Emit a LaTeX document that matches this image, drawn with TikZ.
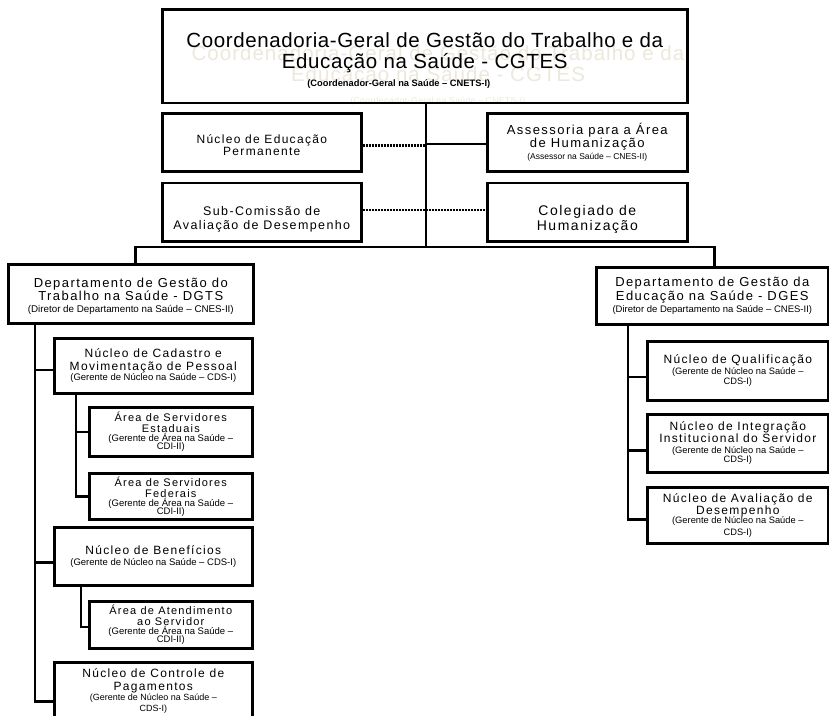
\documentclass[tikz,border=0pt]{standalone}
\usepackage{fontspec}
\setmainfont{Liberation Sans}
\usetikzlibrary{positioning,backgrounds}

\definecolor{ghostgray}{RGB}{236,232,220}

\newcommand{\titlefont}{\fontsize{20.5}{21}\selectfont\addfontfeature{LetterSpace=3}}
\newcommand{\unitfont}[2]{\fontsize{#1}{#2}\selectfont\addfontfeature{LetterSpace=11}}
\newcommand{\rolenote}[1][9]{\fontsize{#1}{#1}\selectfont\addfontfeature{LetterSpace=0}}

\tikzset{
  unit/.style={draw, line width=2.6pt, anchor=north west, align=center, inner sep=0pt},
  link/.style={line width=2.6pt},
  stem/.style={line width=2pt},
  trunk/.style={line width=2.8pt},
  dotlink/.style={line width=2.6pt, dash pattern=on 2pt off 1pt},
  ghost/.style={text=ghostgray, align=center, inner sep=0pt}
}

\begin{document}
\begin{tikzpicture}[x=1pt, y=-1pt]
  \useasboundingbox (0,0) rectangle (829,715);

  % coordenadoria
  \node[unit, minimum width=525pt, minimum height=93.5pt, font=\titlefont] (cgtes) at (161,8)
    {\rule{0pt}{24pt}Coordenadoria-Geral de Gestão do Trabalho e da\\Educação na Saúde - CGTES\\[-3pt]
     {\rolenote[9.3]\bfseries (Coordenador-Geral na Saúde – CNETS-I)}\hspace*{52pt}};
  \begin{scope}[on background layer]
    \node[ghost, font=\titlefont\addfontfeature{LetterSpace=5}] (cgtesghost) at (438,75)
      {Coordenadoria-Geral de Gestão do Trabalho e da\\Educação na Saúde - CGTES\\[1pt]
       {\fontsize{8.5}{8.5}\selectfont (Coordenador-Geral na Saúde – CNETS-I)}};
  \end{scope}

  % assessoramento
  \node[unit, minimum width=199pt, minimum height=58pt, font={\unitfont{12}{12}}] (nep) at (161,112)
    {\rule{0pt}{14pt}Núcleo de Educação\\Permanente};
  \node[unit, minimum width=200pt, minimum height=58pt, font={\unitfont{13}{12}}] (ahum) at (486,112)
    {Assessoria para a Área\\de Humanização\\{\rolenote[8.5] (Assessor na Saúde – CNES-II)}};
  \node[unit, minimum width=199pt, minimum height=58.5pt, font={\unitfont{12.5}{14}}] (sca) at (161,181.5)
    {\rule{0pt}{23pt}Sub-Comissão de\\Avaliação de Desempenho};
  \node[unit, minimum width=200pt, minimum height=58.5pt, font={\unitfont{14}{15}}] (chum) at (486,181.5)
    {\rule{0pt}{24pt}Colegiado de\\Humanização};

  % departamentos
  \node[unit, minimum width=245pt, minimum height=59pt, font={\unitfont{13}{12}}] (dgts) at (7,263)
    {\rule{0pt}{14pt}Departamento de Gestão do\\Trabalho na Saúde - DGTS\\{\rolenote[9.8] (Diretor de Departamento na Saúde – CNES-II)}};
  \node[unit, minimum width=232pt, minimum height=57pt, font={\unitfont{13}{12}}] (dges) at (595,266)
    {Departamento de Gestão da\\Educação na Saúde - DGES\\{\rolenote[9.5] (Diretor de Departamento na Saúde – CNES-II)}};

  % DGTS
  \node[unit, minimum width=198pt, minimum height=55pt, font={\unitfont{12}{13}}] (ncm) at (53,337)
    {Núcleo de Cadastro e\\Movimentação de Pessoal\\[-3pt]{\rolenote[9.5] (Gerente de Núcleo na Saúde – CDS-I)}};
  \node[unit, minimum width=163pt, minimum height=49pt, font={\unitfont{11}{11}}] (ase) at (88,406)
    {Área de Servidores\\Estaduais\\[-2pt]{\rolenote[9.5] (Gerente de Área na Saúde –}\\[-3pt]{\rolenote[9.5] CDI-II)}};
  \node[unit, minimum width=163pt, minimum height=46pt, font={\unitfont{11}{11}}] (asf) at (88,472)
    {Área de Servidores\\Federais\\[-2pt]{\rolenote[9.5] (Gerente de Área na Saúde –}\\[-3pt]{\rolenote[9.5] CDI-II)}};
  \node[unit, minimum width=198pt, minimum height=58pt, font={\unitfont{12}{13}}] (nben) at (53,526)
    {Núcleo de Benefícios\\[-2pt]{\rolenote[9.5] (Gerente de Núcleo na Saúde – CDS-I)}};
  \node[unit, minimum width=163pt, minimum height=47pt, font={\unitfont{11}{11}}] (aat) at (88,600)
    {Área de Atendimento\\ao Servidor\\[-2pt]{\rolenote[9.5] (Gerente de Área na Saúde –}\\[-3pt]{\rolenote[9.5] CDI-II)}};
  \node[unit, minimum width=198pt, minimum height=58pt, font={\unitfont{12}{13}}] (ncp) at (53,661)
    {\rule{0pt}{9pt}Núcleo de Controle de\\Pagamentos\\[-3pt]{\rolenote (Gerente de Núcleo na Saúde –}\\[-2pt]{\rolenote CDS-I)}};

  % DGES
  \node[unit, minimum width=181pt, minimum height=59pt, font={\unitfont{12}{13}}] (nq) at (646,340)
    {Núcleo de Qualificação\\[-2pt]{\rolenote[9.3] (Gerente de Núcleo na Saúde –}\\[-3pt]{\rolenote[9.3] CDS-I)}};
  \node[unit, minimum width=181pt, minimum height=58pt, font={\unitfont{12}{12}}] (nii) at (646,413)
    {Núcleo de Integração\\Institucional do Servidor\\[-1pt]{\rolenote[9.3] (Gerente de Núcleo na Saúde –}\\[-3pt]{\rolenote[9.3] CDS-I)}};
  \node[unit, minimum width=181pt, minimum height=56pt, font={\unitfont{12}{12}}] (nad) at (646,486)
    {Núcleo de Avaliação de\\Desempenho\\[-3pt]{\rolenote[9.3] (Gerente de Núcleo na Saúde –}\\[0pt]{\rolenote[9.3] CDS-I)}};

  % ligacoes
  \coordinate (hub) at (426,247);
  \draw[stem] (cgtes.south -| hub) -- (hub);
  \draw[dotlink] ([yshift=-3pt]nep.east) -- ([yshift=-3pt]nep.east -| hub);
  \draw[stem] ([yshift=-2pt]ahum.west -| hub) -- ([yshift=-2pt]ahum.west);
  \draw[dotlink] ([yshift=2pt]sca.east) -- ([yshift=2pt]chum.west);
  \draw[trunk] ([xshift=5pt]dgts.north) -- ([xshift=5pt]dgts.north |- hub) -| ([xshift=2pt]dges.north);

  \coordinate (lspine) at ([xshift=28pt]dgts.south west);
  \coordinate (sub1) at ([xshift=23pt]ncm.south west);
  \coordinate (sub2) at ([xshift=28pt]nben.south west);
  \coordinate (rspine) at ([xshift=33pt]dges.south west);

  \draw[link] (lspine) |- ([yshift=-10pt]ncp.west);
  \draw[link] ([yshift=-4pt]ncm.west) -- ([yshift=-4pt]ncm.west -| lspine);
  \draw[link] ([yshift=-6pt]nben.west) -- ([yshift=-6pt]nben.west -| lspine);
  \draw[link] (sub1) |- (asf.west);
  \draw[link] (ase.west) -- (ase.west -| sub1);
  \draw[link] (sub2) |- ([yshift=-2pt]aat.west);

  \draw[link] (rspine) |- ([yshift=-4pt]nad.west);
  \draw[link] ([yshift=-6pt]nq.west) -- ([yshift=-6pt]nq.west -| rspine);
  \draw[link] ([yshift=-7pt]nii.west) -- ([yshift=-7pt]nii.west -| rspine);
\end{tikzpicture}
\end{document}
